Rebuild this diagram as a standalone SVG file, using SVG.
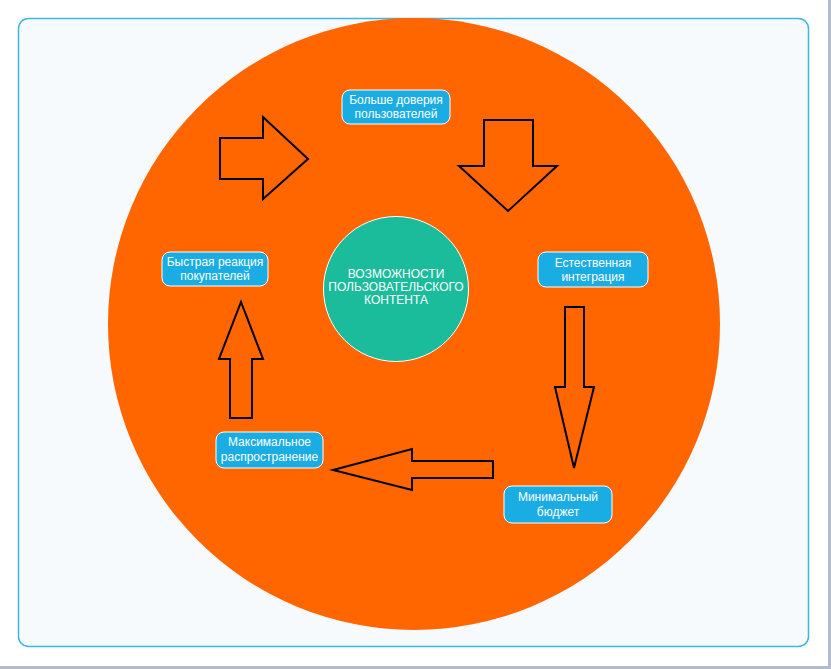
<svg xmlns="http://www.w3.org/2000/svg" width="831" height="669" viewBox="0 0 831 669">
<style>
.box{fill:#1aade3;stroke:#ffffff;stroke-width:1}
.lbl{font-family:"Liberation Sans",Arial,sans-serif;font-size:12px;fill:#ffffff;text-anchor:middle}
.arr{fill:none;stroke:#000000;stroke-width:2;stroke-linejoin:miter}
</style>
<rect x="0" y="0" width="831" height="669" fill="#ffffff"/>
<rect x="828" y="0" width="3" height="669" fill="#b3bccb"/>
<rect x="0" y="666" width="831" height="3" fill="#b3bccb"/>
<g id="frame">
<rect x="18.5" y="18.5" width="790" height="628" rx="10" fill="#f6fafd" stroke="#3db6e2" stroke-width="1.5"/>
</g>
<g id="bg-circle">
<circle cx="414" cy="324" r="306" fill="#ff6600"/>
</g>
<g id="connectors">
<polygon class="arr" points="220,138 263,138 263,117 308,159 263,199 263,179 220,179"/>
<polygon class="arr" points="484,120 533,120 533,166 557,166 508,211 459,166 484,166"/>
<polygon class="arr" points="565,307 584,307 584,387 594,387 574,468 555,387 565,387"/>
<polygon class="arr" points="493,461 493,478 412,478 412,490 333,470 412,449 412,461"/>
<polygon class="arr" points="230,418 252,418 252,359 263,359 241,302 219,359 230,359"/>
</g>
<g id="center">
<circle cx="396" cy="289" r="72.5" fill="#1abc9c" stroke="#ffffff" stroke-width="1"/>
<text class="lbl" x="396" y="278">ВОЗМОЖНОСТИ</text>
<text class="lbl" x="396" y="291">ПОЛЬЗОВАТЕЛЬСКОГО</text>
<text class="lbl" x="396" y="304">КОНТЕНТА</text>
</g>
<g id="node-trust">
<rect class="box" x="342" y="90" width="108" height="34" rx="8"/>
<text class="lbl" x="396" y="104">Больше доверия</text>
<text class="lbl" x="396" y="118">пользователей</text>
</g>
<g id="node-integration">
<rect class="box" x="538" y="252" width="110" height="35" rx="8"/>
<text class="lbl" x="593" y="267">Естественная</text>
<text class="lbl" x="593" y="281">интеграция</text>
</g>
<g id="node-budget">
<rect class="box" x="504" y="486" width="108" height="37" rx="8"/>
<text class="lbl" x="558" y="501">Минимальный</text>
<text class="lbl" x="558" y="516">бюджет</text>
</g>
<g id="node-reach">
<rect class="box" x="216" y="432" width="107" height="36" rx="8"/>
<text class="lbl" x="269.5" y="446">Максимальное</text>
<text class="lbl" x="269.5" y="461">распространение</text>
</g>
<g id="node-reaction">
<rect class="box" x="162" y="252" width="106" height="34" rx="8"/>
<text class="lbl" x="215" y="266">Быстрая реакция</text>
<text class="lbl" x="215" y="280">покупателей</text>
</g>
</svg>
